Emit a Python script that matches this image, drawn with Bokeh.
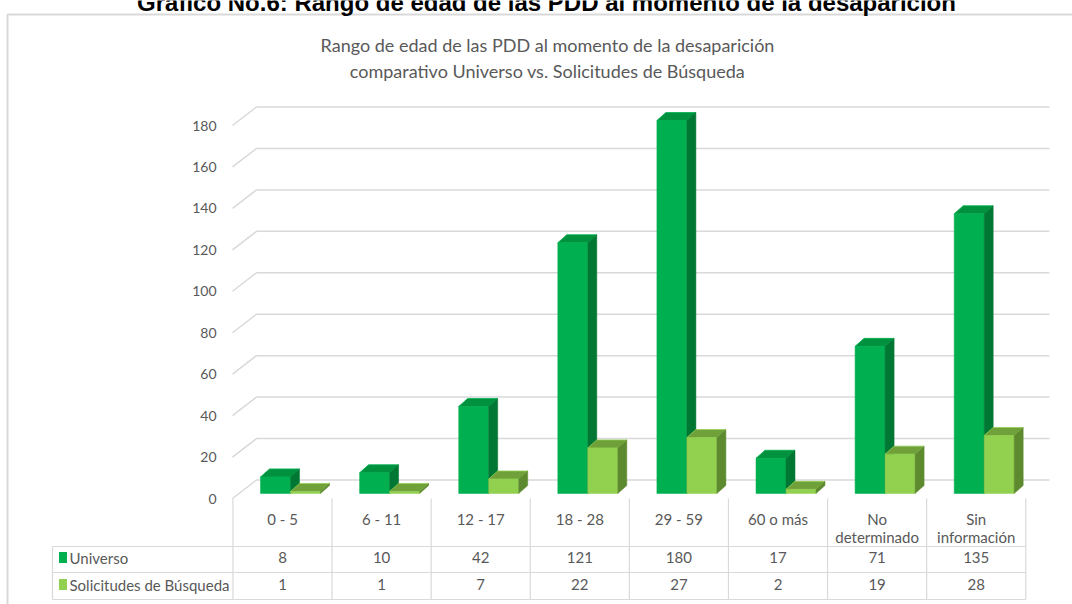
from bokeh.plotting import figure
from bokeh.models import Range1d
from bokeh.core.properties import value
from bokeh.embed import file_html
from bokeh.resources import INLINE

# ---------------- data ----------------
categories = ["0 - 5", "6 - 11", "12 - 17", "18 - 28", "29 - 59", "60 o más",
              "No\ndeterminado", "Sin\ninformación"]
universo = [8, 10, 42, 121, 180, 17, 71, 135]
solicitudes = [1, 1, 7, 22, 27, 2, 19, 28]
series_names = ["Universo", "Solicitudes de Búsqueda"]
y_ticks = [0, 20, 40, 60, 80, 100, 120, 140, 160, 180]
main_title = "Gráfico No.6: Rango de edad de las PDD al momento de la desaparición"
chart_title = ["Rango de edad de las PDD al momento de la desaparición",
               "comparativo Universo vs. Solicitudes de Búsqueda"]

# ---------------- layout / style ----------------
W, H = 1072, 604
PPX = 99.1            # pixels per category
PPY = 373.0 / 180.0   # pixels per value unit
X0_IMG = 282
Y0_IMG = 493

x_start = -X0_IMG / PPX
x_end = x_start + W / PPX
y_end = Y0_IMG / PPY
y_start = y_end - H / PPY


def X(px):
    return x_start + px / PPX


def Y(py):
    return y_end - py / PPY


def DX(d):
    return d / PPX


def DY(d):
    return d / PPY


GRID = "#D9D9D9"
TXT = "#595959"
FONT = value("Lato")
C_U = ("#00B050", "#00913E", "#007733")   # front, top, side
C_S = ("#92D050", "#70A03A", "#5E8A2F")

p = figure(width=W, height=H, x_range=Range1d(x_start, x_end),
           y_range=Range1d(y_start, y_end), output_backend="svg",
           toolbar_location=None, min_border=0, x_axis_location=None,
           y_axis_location=None, outline_line_color=None,
           background_fill_color="white", border_fill_color="white")
p.grid.visible = False

# outer chart border
p.line([X(7), X(7), X(1100)], [Y(640), Y(14), Y(14)], line_color=GRID, line_width=2)

# main (cut) title
p.text(x=[X(546)], y=[Y(2)], text=[main_title], text_font=value("Liberation Sans"),
       text_font_style="bold", text_font_size=value("24px"), text_color="#000000",
       text_align="center", text_baseline="alphabetic")

# chart title
p.text(x=[X(547), X(547)], y=[Y(44), Y(70)], text=chart_title, text_font=FONT,
       text_font_size=value("18px"), text_color=TXT, text_align="center",
       text_baseline="middle")

# back-wall gridlines with perspective diagonal
BACK = DY(13.5)
FRONT = DY(5)
gx, gy = [], []
for v in y_ticks:
    gx.append([X(232), X(256), X(1049)])
    gy.append([v - FRONT, v + BACK, v + BACK])
p.multi_line(gx, gy, line_color=GRID, line_width=1.5)

p.text(x=[X(216)] * len(y_ticks), y=[v - FRONT for v in y_ticks],
       text=[str(v) for v in y_ticks], text_font=FONT, text_font_size=value("14px"),
       text_color=TXT, text_align="right", text_baseline="middle")

# 3D bars
dx, dy = DX(9), DY(8)


def bars(vals, lo, hi, cols):
    left = [i + DX(lo) for i in range(len(vals))]
    right = [i + DX(hi) for i in range(len(vals))]
    p.quad(left=left, right=right, bottom=[0] * len(vals), top=vals,
           fill_color=cols[0], line_color=cols[0], line_width=0.5)
    txs = [[l, r, r + dx, l + dx] for l, r in zip(left, right)]
    tys = [[v, v, v + dy, v + dy] for v in vals]
    p.patches(txs, tys, fill_color=cols[1], line_color=cols[0], line_width=0.8)
    sxs = [[r, r, r + dx, r + dx] for r in right]
    sys_ = [[0, v, v + dy, dy] for v in vals]
    p.patches(sxs, sys_, fill_color=cols[2], line_color=cols[2], line_width=0.5)


bars(universo, -22, 8, C_U)
bars(solicitudes, 8, 38, C_S)

# data table below
n = len(categories)
vx, vy = [], []
for k in range(n + 1):
    vx.append([k - 0.5, k - 0.5])
    vy.append([Y(498), Y(599)])
vx.append([X(52), X(52)])
vy.append([Y(546), Y(599)])
for yy in (546, 572, 599):
    vx.append([X(52), n - 0.5])
    vy.append([Y(yy), Y(yy)])
p.multi_line(vx, vy, line_color=GRID, line_width=1.2)

lx, ly, lt = [], [], []
for i, c in enumerate(categories):
    for j, part in enumerate(c.split("\n")):
        lx.append(i)
        ly.append(Y(518 + 18.5 * j))
        lt.append(part)
p.text(x=lx, y=ly, text=lt, text_font=FONT, text_font_size=value("15px"),
       text_color=TXT, text_align="center", text_baseline="middle")

rows = [universo, solicitudes]
row_y = [557, 584]
for r, yy in zip(rows, row_y):
    p.text(x=list(range(n)), y=[Y(yy)] * n, text=[str(v) for v in r], text_font=FONT,
           text_font_size=value("15px"), text_color=TXT, text_align="center",
           text_baseline="middle")

p.rect(x=[X(62.5), X(62.5)], y=[Y(y) for y in row_y], width=DX(8), height=DY(11),
       fill_color=[C_U[0], C_S[0]], line_color=None)
p.text(x=[X(69), X(69)], y=[Y(y) for y in row_y], text=series_names, text_font=FONT,
       text_font_size=value("15px"), text_color=TXT, text_align="left",
       text_baseline="middle")

open("out.html", "w").write(file_html(p, INLINE))
